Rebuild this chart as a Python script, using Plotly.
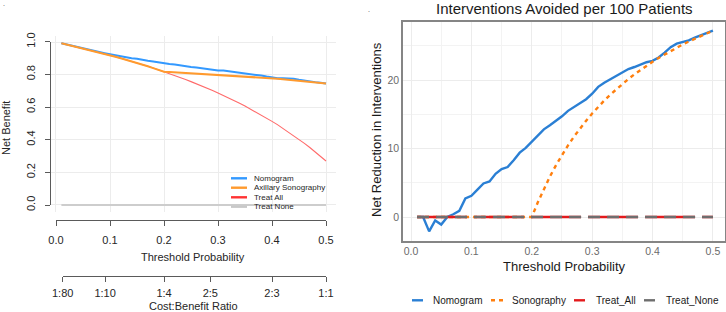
import plotly.graph_objects as go

W, H = 726, 312


def fx(p):
    return p / W


def fy(p):
    return 1 - p / H


# ---------------- data ----------------
thresholds = [0.01, 0.02, 0.03, 0.04, 0.05, 0.06, 0.07, 0.08, 0.09, 0.10,
              0.11, 0.12, 0.13, 0.14, 0.15, 0.16, 0.17, 0.18, 0.19, 0.20,
              0.21, 0.22, 0.23, 0.24, 0.25, 0.26, 0.27, 0.28, 0.29, 0.30,
              0.31, 0.32, 0.33, 0.34, 0.35, 0.36, 0.37, 0.38, 0.39, 0.40,
              0.41, 0.42, 0.43, 0.44, 0.45, 0.46, 0.47, 0.48, 0.49, 0.50]

# Left panel: standardized net benefit
nb_nomogram = [0.993, 0.985, 0.976, 0.969, 0.961, 0.953, 0.946, 0.938, 0.932, 0.925,
               0.918, 0.912, 0.905, 0.900, 0.898, 0.890, 0.885, 0.881, 0.875, 0.870,
               0.865, 0.862, 0.856, 0.851, 0.847, 0.843, 0.838, 0.833, 0.828, 0.826,
               0.825, 0.821, 0.817, 0.813, 0.809, 0.805, 0.799, 0.794, 0.788, 0.781,
               0.778, 0.777, 0.778, 0.775, 0.769, 0.763, 0.760, 0.754, 0.750, 0.746]
nb_sonography = [0.993, 0.985, 0.977, 0.970, 0.962, 0.953, 0.945, 0.937, 0.928, 0.919,
                 0.910, 0.900, 0.891, 0.881, 0.871, 0.861, 0.851, 0.840, 0.829, 0.818,
                 0.816, 0.814, 0.813, 0.811, 0.810, 0.808, 0.806, 0.804, 0.802, 0.801,
                 0.799, 0.797, 0.794, 0.792, 0.790, 0.788, 0.785, 0.783, 0.780, 0.778,
                 0.775, 0.772, 0.769, 0.766, 0.763, 0.760, 0.757, 0.753, 0.750, 0.746]
nb_treat_all = [0.993, 0.985, 0.977, 0.970, 0.962, 0.953, 0.945, 0.937, 0.928, 0.919,
                0.910, 0.900, 0.891, 0.881, 0.871, 0.861, 0.851, 0.840, 0.829, 0.818,
                0.806, 0.794, 0.782, 0.770, 0.757, 0.744, 0.730, 0.716, 0.702, 0.687,
                0.672, 0.657, 0.641, 0.624, 0.607, 0.589, 0.571, 0.553, 0.533, 0.513,
                0.493, 0.471, 0.449, 0.426, 0.403, 0.378, 0.353, 0.326, 0.299, 0.270]
nb_treat_none = [0.0, 0.0, 0.0, 0.0, 0.0, 0.0, 0.0, 0.0, 0.0, 0.0,
                 0.0, 0.0, 0.0, 0.0, 0.0, 0.0, 0.0, 0.0, 0.0, 0.0,
                 0.0, 0.0, 0.0, 0.0, 0.0, 0.0, 0.0, 0.0, 0.0, 0.0,
                 0.0, 0.0, 0.0, 0.0, 0.0, 0.0, 0.0, 0.0, 0.0, 0.0,
                 0.0, 0.0, 0.0, 0.0, 0.0, 0.0, 0.0, 0.0, 0.0, 0.0]

# Right panel: net reduction in interventions per 100 patients
ia_nomogram = [0.0, 0.0, -2.1, -0.5, -1.1, 0.0, 0.4, 0.9, 2.7, 3.1,
               4.0, 4.9, 5.2, 6.3, 7.0, 7.3, 8.3, 9.4, 10.1, 11.0,
               11.8, 12.8, 13.4, 14.0, 14.7, 15.5, 16.1, 16.6, 17.2, 18.0,
               19.0, 19.6, 20.1, 20.6, 21.1, 21.6, 21.9, 22.3, 22.6, 22.8,
               23.3, 24.0, 24.8, 25.3, 25.5, 25.8, 26.2, 26.5, 26.9, 27.2]
ia_sonography = [0.0, 0.0, 0.0, 0.0, 0.0, 0.0, 0.0, 0.0, 0.0, 0.0,
                 0.0, 0.0, 0.0, 0.0, 0.0, 0.0, 0.0, 0.0, 0.0, 0.0,
                 2.15, 4.11, 5.90, 7.55, 9.06, 10.46, 11.75, 12.95, 14.06, 15.11,
                 16.08, 17.00, 17.86, 18.66, 19.43, 20.15, 20.83, 21.47, 22.08, 22.67,
                 23.22, 23.74, 24.25, 24.73, 25.19, 25.62, 26.04, 26.44, 26.83, 27.20]
ia_treat_all = [0.0, 0.0, 0.0, 0.0, 0.0, 0.0, 0.0, 0.0, 0.0, 0.0,
                0.0, 0.0, 0.0, 0.0, 0.0, 0.0, 0.0, 0.0, 0.0, 0.0,
                0.0, 0.0, 0.0, 0.0, 0.0, 0.0, 0.0, 0.0, 0.0, 0.0,
                0.0, 0.0, 0.0, 0.0, 0.0, 0.0, 0.0, 0.0, 0.0, 0.0,
                0.0, 0.0, 0.0, 0.0, 0.0, 0.0, 0.0, 0.0, 0.0, 0.0]
ia_treat_none = [0.0, 0.0, 0.0, 0.0, 0.0, 0.0, 0.0, 0.0, 0.0, 0.0,
                 0.0, 0.0, 0.0, 0.0, 0.0, 0.0, 0.0, 0.0, 0.0, 0.0,
                 0.0, 0.0, 0.0, 0.0, 0.0, 0.0, 0.0, 0.0, 0.0, 0.0,
                 0.0, 0.0, 0.0, 0.0, 0.0, 0.0, 0.0, 0.0, 0.0, 0.0,
                 0.0, 0.0, 0.0, 0.0, 0.0, 0.0, 0.0, 0.0, 0.0, 0.0]

nb_ticks = [0.0, 0.2, 0.4, 0.6, 0.8, 1.0]
nb_ticktext = ["0.0", "0.2", "0.4", "0.6", "0.8", "1.0"]
thr_ticks = [0.0, 0.1, 0.2, 0.3, 0.4, 0.5]
thr_ticktext = ["0.0", "0.1", "0.2", "0.3", "0.4", "0.5"]
cb_ticks = [0.0123, 0.0909, 0.2, 0.2857, 0.4, 0.5]
cb_ticktext = ["1:80", "1:10", "1:4", "2:5", "2:3", "1:1"]
ia_yticks = [0, 10, 20]
ia_yticktext = ["0", "10", "20"]
ia_yminor = [5, 15, 25]
thr_minor = [0.05, 0.15, 0.25, 0.35, 0.45]

left_names = ["Nomogram", "Axillary Sonography", "Treat All", "Treat None"]
right_names = ["Nomogram", "Sonography", "Treat_All", "Treat_None"]

# ---------------- styles ----------------
FONT = "Liberation Sans, Arial, Helvetica, sans-serif"
AX = "#5a5a5a"
GRID = "#ECECEC"

left_line = {
    "Nomogram": dict(color="#3399FF", width=2),
    "Axillary Sonography": dict(color="#FF9A2E", width=2),
    "Treat All": dict(color="#FF6A6A", width=1.1),
    "Treat None": dict(color="#CDCDCD", width=2),
}
left_key = {
    "Nomogram": dict(color="#3399FF", width=2.4),
    "Axillary Sonography": dict(color="#FF9A2E", width=2.4),
    "Treat All": dict(color="#FF3333", width=2.4),
    "Treat None": dict(color="#C8C8C8", width=2.4),
}
right_line = {
    "Nomogram": dict(color="#2A7FD4", width=2.4),
    "Sonography": dict(color="#FF7F0E", width=2.4, dash="4px,4px"),
    "Treat_All": dict(color="#E31A1C", width=2.4, dash="50px,7px"),
    "Treat_None": dict(color="#6E6E6E", width=2.4, dash="12px,7px"),
}

fig = go.Figure()

# ---------------- left panel traces ----------------
left_series = {
    "Nomogram": nb_nomogram,
    "Axillary Sonography": nb_sonography,
    "Treat All": nb_treat_all,
    "Treat None": nb_treat_none,
}
for name in ["Treat None", "Treat All", "Nomogram", "Axillary Sonography"]:
    fig.add_trace(go.Scatter(x=thresholds, y=left_series[name], mode="lines",
                             line=left_line[name], name=name, showlegend=False,
                             hoverinfo="skip", xaxis="x", yaxis="y"))

# helper traces so the stand-alone R-style axes are rendered
fig.add_trace(go.Scatter(x=[0.25], y=[None], mode="lines", showlegend=False,
                         hoverinfo="skip", xaxis="x2", yaxis="y5"))
fig.add_trace(go.Scatter(x=[0.25], y=[None], mode="lines", showlegend=False,
                         hoverinfo="skip", xaxis="x3", yaxis="y5"))
fig.add_trace(go.Scatter(x=[None], y=[0.5], mode="lines", showlegend=False,
                         hoverinfo="skip", xaxis="x5", yaxis="y3"))

# ---------------- right panel traces ----------------
right_series = {
    "Nomogram": ia_nomogram,
    "Sonography": ia_sonography,
    "Treat_All": ia_treat_all,
    "Treat_None": ia_treat_none,
}
for name in right_names:
    fig.add_trace(go.Scatter(x=thresholds, y=right_series[name], mode="lines",
                             line=right_line[name], name=name, showlegend=False,
                             hoverinfo="skip", xaxis="x4", yaxis="y2"))

tickfont_left = dict(size=11, color="#262626", family=FONT)
tickfont_right = dict(size=10.5, color="#6b6b6b", family=FONT)

fig.update_layout(
    width=W, height=H,
    margin=dict(l=0, r=0, t=0, b=0, autoexpand=False),
    paper_bgcolor="white",
    plot_bgcolor="rgba(0,0,0,0)",
    font=dict(family=FONT, color="#222222"),
    hovermode=False,
    showlegend=False,
    # left grid
    xaxis=dict(domain=[fx(50), fx(336)], range=[-0.0111, 0.5185], anchor="y",
               tickvals=thr_ticks, showticklabels=False, ticks="",
               showgrid=True, gridcolor=GRID, gridwidth=1, zeroline=False,
               showline=False, fixedrange=True),
    yaxis=dict(domain=[fy(212), fy(36)], range=[-0.043, 1.037], anchor="x",
               tickvals=nb_ticks, showticklabels=False, ticks="",
               showgrid=True, gridcolor=GRID, gridwidth=1, zeroline=False,
               showline=False, fixedrange=True),
    # left axis lines (R style)
    xaxis2=dict(domain=[fx(56), fx(326)], range=[0, 0.5], anchor="free",
                position=fy(220), showline=True, linecolor=AX, linewidth=1.3,
                ticks="outside", ticklen=5, tickwidth=1.3, tickcolor=AX,
                tickvals=thr_ticks, ticktext=thr_ticktext, tickfont=tickfont_left,
                ticklabelstandoff=5,
                showgrid=False, zeroline=False, fixedrange=True),
    xaxis3=dict(domain=[fx(62.7), fx(326)], range=[0.0123, 0.5], anchor="free",
                position=fy(276), showline=True, linecolor=AX, linewidth=1.3,
                ticks="outside", ticklen=5, tickwidth=1.3, tickcolor=AX,
                tickvals=cb_ticks, ticktext=cb_ticktext, tickfont=tickfont_left,
                ticklabelstandoff=2,
                showgrid=False, zeroline=False, fixedrange=True),
    yaxis3=dict(domain=[fy(205), fy(41.7)], range=[0, 1], anchor="free",
                position=fx(50), side="left", showline=True, linecolor=AX,
                linewidth=1.3, ticks="outside", ticklen=5, tickwidth=1.3,
                tickcolor=AX, tickvals=nb_ticks, ticktext=nb_ticktext,
                tickangle=-90, tickfont=tickfont_left, ticklabelstandoff=5,
                showgrid=False, zeroline=False, fixedrange=True),
    xaxis5=dict(visible=False, domain=[0, 0.01], range=[0, 1], anchor="y3"),
    yaxis5=dict(visible=False, domain=[0, 0.01], range=[0, 1], anchor="x2"),
    # right panel
    xaxis4=dict(domain=[fx(403), fx(725)], range=[-0.0133, 0.52], anchor="y2",
                showline=True, mirror=True, linecolor="#858585", linewidth=1.6,
                ticks="", tickvals=thr_ticks, ticktext=thr_ticktext,
                tickfont=tickfont_right, showgrid=True, gridcolor=GRID,
                gridwidth=1, zeroline=False, fixedrange=True,
                minor=dict(tickvals=thr_minor, showgrid=True, gridcolor="#F3F3F3",
                           gridwidth=0.8, ticks="")),
    yaxis2=dict(domain=[fy(241), fy(22)], range=[-3.5, 28.47], anchor="x4",
                showline=True, mirror=True, linecolor="#858585", linewidth=1.6,
                ticks="", tickvals=ia_yticks, ticktext=ia_yticktext,
                tickfont=tickfont_right, showgrid=True, gridcolor=GRID,
                gridwidth=1, zeroline=False, fixedrange=True,
                minor=dict(tickvals=ia_yminor, showgrid=True, gridcolor="#F3F3F3",
                           gridwidth=0.8, ticks="")),
)

# ---------------- titles ----------------
def ann(text, x, y, size, color="#1a1a1a", angle=0, xanchor="center"):
    fig.add_annotation(text=text, x=fx(x), y=fy(y), xref="paper", yref="paper",
                       showarrow=False, xanchor=xanchor, yanchor="middle",
                       textangle=angle, font=dict(size=size, color=color, family=FONT))


ann("Net Benefit", 6, 128, 11, "#262626", -90)
ann("Threshold Probability", 193, 257, 11, "#262626")
ann("Cost:Benefit Ratio", 193, 306, 11, "#262626")
ann("Interventions Avoided per 100 Patients", 564, 8, 15)
ann("Net Reduction in Interventions", 376, 130, 13, "#1a1a1a", -90)
ann("Threshold Probability", 564, 266, 13)
ann(".", 4, 4, 7, "#444")
ann(".", 369, 9, 7, "#444")

# ---------------- legends (drawn as keys + labels) ----------------
left_rows = [178.3, 187.7, 197.3, 206.7]
for name, ry in zip(left_names, left_rows):
    fig.add_shape(type="line", xref="paper", yref="paper", x0=fx(231), x1=fx(247),
                  y0=fy(ry), y1=fy(ry), line=left_key[name])
    ann(name, 252, ry, 8, "#262626", 0, "left")

right_keys = [(412, 423, 431), (491, 503, 510), (574, 585, 594), (644, 655, 664)]
for name, (k0, k1, tx) in zip(right_names, right_keys):
    st = dict(right_line[name])
    if name == "Sonography":
        st["dash"] = "4px,4px"
    else:
        st.pop("dash", None)
    fig.add_shape(type="line", xref="paper", yref="paper", x0=fx(k0), x1=fx(k1),
                  y0=fy(300.3), y1=fy(300.3), line=st)
    ann(name, tx, 300.3, 10, "#1a1a1a", 0, "left")

fig.write_html("out.html")
